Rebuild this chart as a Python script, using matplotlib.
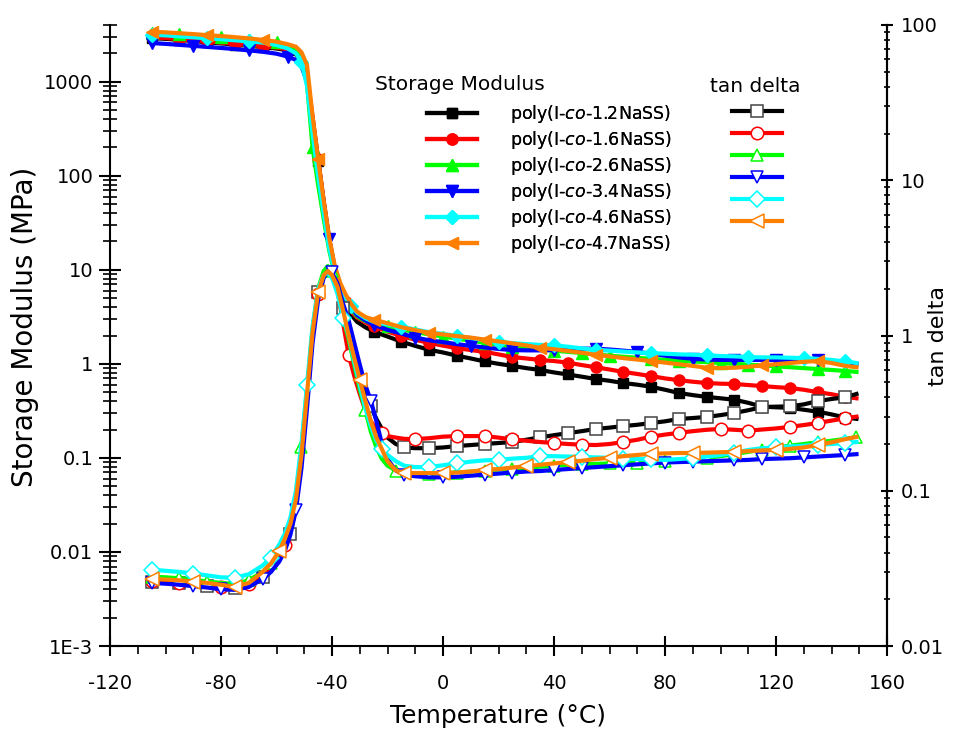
import numpy as np
import matplotlib
matplotlib.use("Agg")
import matplotlib.pyplot as plt
from matplotlib.ticker import FixedLocator, FixedFormatter, LogLocator, MultipleLocator, NullFormatter

plt.rcParams['font.family'] = ['DejaVu Sans']
plt.rcParams['mathtext.fontset'] = 'dejavusans'
plt.rcParams['axes.unicode_minus'] = False

# Temperature grids (deg C)
T_E = [-105, -100, -95, -90, -85, -80, -75, -70, -65, -60,
       -56, -53, -51, -49, -47, -45, -43, -41, -39, -37, -35, -33, -31, -28, -25,
       -20, -15, -10, -5, 0, 5, 10, 15, 20, 25, 30, 35, 40, 45, 50, 55, 60, 65, 70,
       75, 80, 85, 90, 95, 100, 105, 110, 115, 120, 125, 130, 135, 140, 145, 149]

T_D = [-105, -100, -95, -90, -85, -80, -75, -70, -65,
       -62, -59, -57, -55, -53, -51, -49, -47, -45, -43, -41.5, -40, -38, -36, -34,
       -32, -30, -28, -26, -24, -22, -20, -17, -14, -10, -5,
       0, 5, 10, 15, 20, 25, 30, 35, 40, 45, 50, 55, 60, 65, 70, 75, 80, 85, 90, 95,
       100, 105, 110, 115, 120, 125, 130, 135, 140, 145, 149]

samples = ['1.2', '1.6', '2.6', '3.4', '4.6', '4.7']

# Storage modulus (MPa)
E_12 = [2900, 2850, 2780, 2700, 2620, 2550, 2480, 2400, 2330, 2250,
        2150, 1950, 1600, 1050, 400, 145, 52, 20, 9.5, 5.8, 4.1, 3.3, 2.8, 2.45, 2.2,
        1.95, 1.72, 1.55, 1.41, 1.32, 1.22, 1.14, 1.06, 1.0, 0.95, 0.9, 0.86, 0.81,
        0.77, 0.73, 0.69, 0.66, 0.625, 0.6, 0.57, 0.53, 0.49, 0.465, 0.445, 0.43,
        0.415, 0.385, 0.35, 0.345, 0.34, 0.325, 0.31, 0.29, 0.268, 0.26]
E_16 = [2950, 2900, 2830, 2750, 2680, 2600, 2530, 2450, 2380, 2300,
        2200, 2000, 1650, 1100, 420, 150, 54, 21, 10, 6.2, 4.5, 3.6, 3.1, 2.75, 2.5,
        2.2, 1.98, 1.8, 1.67, 1.56, 1.47, 1.4, 1.34, 1.26, 1.18, 1.14, 1.1, 1.07,
        1.03, 0.97, 0.92, 0.87, 0.82, 0.78, 0.74, 0.7, 0.67, 0.645, 0.625, 0.615,
        0.61, 0.595, 0.58, 0.565, 0.553, 0.53, 0.5, 0.475, 0.445, 0.43]
E_26 = [3300, 3250, 3180, 3100, 3030, 2950, 2880, 2800, 2720, 2620,
        2450, 2150, 1700, 950, 200, 80, 35, 16, 9, 6.2, 4.7, 3.8, 3.2, 2.85, 2.65,
        2.5, 2.32, 2.18, 2.05, 1.95, 1.85, 1.76, 1.68, 1.6, 1.52, 1.47, 1.42, 1.38,
        1.34, 1.3, 1.26, 1.22, 1.19, 1.16, 1.13, 1.1, 1.08, 1.06, 1.04, 1.02,
        1.0, 0.98, 0.96, 0.94, 0.92, 0.9, 0.88, 0.86, 0.84, 0.82]
E_34 = [2570, 2520, 2460, 2400, 2340, 2280, 2220, 2150, 2080, 1980,
        1850, 1700, 1450, 1000, 380, 140, 52, 21, 10.5, 6.8, 5.0, 4.0, 3.3, 2.9, 2.6,
        2.3, 2.1, 1.9, 1.78, 1.7, 1.62, 1.55, 1.49, 1.44, 1.4, 1.39, 1.39, 1.4,
        1.42, 1.45, 1.45, 1.42, 1.38, 1.34, 1.28, 1.22, 1.17, 1.13, 1.11, 1.1,
        1.1, 1.1, 1.1, 1.1, 1.1, 1.1, 1.09, 1.06, 1.03, 1.0]
E_46 = [3150, 3100, 3030, 2960, 2890, 2820, 2750, 2680, 2600, 2450,
        2250, 2000, 1600, 900, 280, 100, 40, 17, 9.5, 6.5, 5.0, 4.1, 3.5, 3.05, 2.8,
        2.62, 2.47, 2.32, 2.17, 2.08, 1.98, 1.88, 1.78, 1.72, 1.66, 1.62, 1.59, 1.57,
        1.52, 1.46, 1.41, 1.38, 1.35, 1.32, 1.3, 1.28, 1.26, 1.25, 1.23, 1.21,
        1.2, 1.18, 1.17, 1.17, 1.16, 1.15, 1.13, 1.1, 1.06, 1.02]
E_47 = [3400, 3340, 3270, 3200, 3120, 3050, 2970, 2880, 2780, 2660,
        2500, 2350, 2050, 1500, 430, 150, 55, 22, 11, 7.2, 5.4, 4.3, 3.6, 3.15, 2.95,
        2.7, 2.45, 2.28, 2.14, 2.05, 1.97, 1.9, 1.81, 1.73, 1.65, 1.57, 1.48, 1.43,
        1.37, 1.31, 1.25, 1.2, 1.15, 1.11, 1.07, 1.03, 0.99, 0.95, 0.91, 0.9,
        0.91, 0.93, 0.96, 0.99, 1.02, 1.05, 1.07, 1.02, 0.95, 0.92]

# tan delta
D_12 = [0.026, 0.0257, 0.0253, 0.025, 0.0245, 0.024, 0.0235, 0.025, 0.028,
        0.031, 0.037, 0.043, 0.053, 0.08, 0.16, 0.4, 1.05, 1.9, 2.4, 2.6, 2.55, 2.1,
        1.5, 1.17, 0.85, 0.6, 0.45, 0.35, 0.29, 0.25, 0.22, 0.2, 0.19, 0.188, 0.188,
        0.19, 0.194, 0.197, 0.2, 0.203, 0.206, 0.213, 0.221, 0.228, 0.235, 0.242,
        0.25, 0.255, 0.261, 0.266, 0.273, 0.28, 0.29, 0.294, 0.299, 0.307, 0.317,
        0.33, 0.346, 0.348, 0.35, 0.36, 0.378, 0.39, 0.4, 0.42]
D_16 = [0.0262, 0.026, 0.0255, 0.025, 0.0246, 0.0241, 0.0237, 0.0252, 0.0285,
        0.032, 0.038, 0.045, 0.055, 0.082, 0.16, 0.4, 1.0, 1.85, 2.4, 2.6, 2.5, 1.95,
        1.2, 0.75, 0.55, 0.42, 0.33, 0.28, 0.25, 0.235, 0.225, 0.22, 0.216, 0.215, 0.218,
        0.223, 0.225, 0.225, 0.225, 0.22, 0.214, 0.21, 0.206, 0.203, 0.2, 0.198,
        0.197, 0.2, 0.206, 0.213, 0.223, 0.23, 0.236, 0.242, 0.247, 0.25, 0.247,
        0.244, 0.248, 0.252, 0.258, 0.265, 0.273, 0.283, 0.293, 0.3]
D_26 = [0.028, 0.0277, 0.0273, 0.0268, 0.026, 0.0255, 0.025, 0.0265, 0.03,
        0.034, 0.041, 0.049, 0.062, 0.092, 0.19, 0.45, 1.1, 2.0, 2.6, 2.8, 2.6, 1.95,
        1.3, 0.95, 0.65, 0.45, 0.33, 0.24, 0.19, 0.16, 0.145, 0.135, 0.13, 0.128, 0.128,
        0.13, 0.131, 0.133, 0.135, 0.137, 0.138, 0.14, 0.143, 0.145, 0.147, 0.148,
        0.149, 0.15, 0.151, 0.152, 0.153, 0.155, 0.157, 0.16, 0.163, 0.167, 0.172,
        0.178, 0.184, 0.19, 0.195, 0.2, 0.205, 0.21, 0.216, 0.222]
D_34 = [0.0255, 0.0252, 0.0248, 0.0243, 0.0238, 0.0232, 0.023, 0.024, 0.027,
        0.03, 0.035, 0.041, 0.052, 0.075, 0.14, 0.34, 0.9, 1.7, 2.35, 2.6, 2.55, 2.15,
        1.6, 1.25, 0.9, 0.65, 0.48, 0.38, 0.28, 0.2, 0.16, 0.135, 0.127, 0.124, 0.122,
        0.122, 0.123, 0.125, 0.127, 0.129, 0.131, 0.133, 0.134, 0.136, 0.138, 0.14,
        0.142, 0.144, 0.146, 0.148, 0.15, 0.152, 0.153, 0.154, 0.155, 0.156, 0.157,
        0.158, 0.16, 0.161, 0.162, 0.164, 0.166, 0.168, 0.17, 0.172]
D_46 = [0.031, 0.0305, 0.030, 0.0293, 0.0285, 0.0277, 0.0275, 0.029, 0.033,
        0.037, 0.045, 0.053, 0.067, 0.1, 0.2, 0.48, 1.15, 2.0, 2.45, 2.55, 2.35, 1.85,
        1.3, 1.0, 0.68, 0.48, 0.34, 0.26, 0.21, 0.185, 0.17, 0.155, 0.145, 0.142, 0.142,
        0.146, 0.15, 0.154, 0.157, 0.158, 0.161, 0.163, 0.167, 0.167, 0.166, 0.165,
        0.164, 0.163, 0.161, 0.16, 0.159, 0.158, 0.16, 0.162, 0.166, 0.17, 0.176,
        0.183, 0.188, 0.19, 0.193, 0.195, 0.198, 0.2, 0.203, 0.206]
D_47 = [0.027, 0.0268, 0.0265, 0.026, 0.0255, 0.0248, 0.024, 0.0255, 0.03,
        0.034, 0.041, 0.049, 0.061, 0.088, 0.17, 0.42, 1.05, 1.9, 2.45, 2.6, 2.45, 2.05,
        1.45, 1.0, 0.72, 0.52, 0.38, 0.28, 0.22, 0.185, 0.155, 0.135, 0.13, 0.13, 0.13,
        0.13, 0.131, 0.133, 0.136, 0.138, 0.141, 0.144, 0.147, 0.15, 0.153, 0.156,
        0.16, 0.163, 0.167, 0.17, 0.173, 0.174, 0.175, 0.175, 0.176, 0.177, 0.178,
        0.18, 0.182, 0.183, 0.186, 0.19, 0.197, 0.205, 0.215, 0.222]

storage = [E_12, E_16, E_26, E_34, E_46, E_47]
tandelta = [D_12, D_16, D_26, D_34, D_46, D_47]

colors = ['black', '#ff0000', '#00ff00', '#0000ff', '#00ffff', '#ff8000']
markers = ['s', 'o', '^', 'v', 'D', '<']
msizes = [7, 8, 8, 8, 7, 9]
# (first marker temperature, spacing) for each series
e_marks = [(-105, 10), (-105, 10), (-106, 12), (-104, 16), (-105, 18), (-105, 20)]
d_marks = [(-105, 10), (-105, 12), (-105, 11), (-104, 13), (-105, 14), (-105, 15)]


def mark_idx(temps, start, step):
    temps = np.asarray(temps, dtype=float)
    targets = np.arange(start, temps[-1] + 1, step)
    return sorted({int(np.abs(temps - t).argmin()) for t in targets})


def main():
    fig = plt.figure(figsize=(9.6, 7.33), dpi=100)
    ax = fig.add_axes([110 / 960, 1 - 646 / 733, 777 / 960, 621 / 733])
    ax2 = ax.twinx()

    e_handles = []
    d_handles = []
    for i in range(len(samples)):
        h, = ax.plot(T_E, storage[i], color=colors[i], lw=3, marker=markers[i],
                     ms=msizes[i], mfc=colors[i], mec=colors[i],
                     markevery=mark_idx(T_E, *e_marks[i]), zorder=3 + i)
        e_handles.append(h)
        edge = '#444444' if colors[i] == 'black' else colors[i]
        h2, = ax2.plot(T_D, tandelta[i], color=colors[i], lw=3, marker=markers[i],
                       ms=msizes[i] + 1, mfc='white', mec=edge, mew=1.1,
                       markevery=mark_idx(T_D, *d_marks[i]), zorder=3 + i)
        d_handles.append(h2)

    # left axis: storage modulus
    ax.set_yscale('log')
    ax.set_ylim(1e-3, 4000)
    ax.set_xlim(-120, 160)
    ax.yaxis.set_major_locator(FixedLocator([1e-3, 1e-2, 1e-1, 1, 10, 100, 1000]))
    ax.yaxis.set_major_formatter(FixedFormatter(['1E-3', '0.01', '0.1', '1', '10', '100', '1000']))
    ax.yaxis.set_minor_locator(LogLocator(base=10, subs=np.arange(2, 10), numticks=20))
    ax.yaxis.set_minor_formatter(NullFormatter())
    ax.xaxis.set_major_locator(MultipleLocator(40))
    ax.xaxis.set_minor_locator(MultipleLocator(10))

    ax.tick_params(axis='y', which='major', direction='inout', length=16, width=1.5,
                   labelsize=14, pad=4)
    ax.tick_params(axis='y', which='minor', direction='inout', length=10, width=1.2)
    ax.tick_params(axis='x', which='major', direction='inout', length=15, width=1.5,
                   labelsize=14, pad=13)
    ax.tick_params(axis='x', which='minor', direction='out', length=6, width=1.2)

    # right axis: tan delta
    ax2.set_yscale('log')
    ax2.set_ylim(0.01, 100)
    ax2.yaxis.set_major_locator(FixedLocator([0.01, 0.1, 1, 10, 100]))
    ax2.yaxis.set_major_formatter(FixedFormatter(['0.01', '0.1', '1', '10', '100']))
    ax2.yaxis.set_minor_locator(LogLocator(base=10, subs=np.arange(2, 10), numticks=20))
    ax2.yaxis.set_minor_formatter(NullFormatter())
    ax2.tick_params(axis='y', which='major', direction='inout', length=8, width=1.5,
                    labelsize=14, pad=6)
    ax2.tick_params(axis='y', which='minor', direction='inout', length=4, width=1.2)

    for a in (ax, ax2):
        a.spines['top'].set_visible(False)
        for s in ('left', 'right', 'bottom'):
            a.spines[s].set_linewidth(1.5)
    ax2.spines['left'].set_visible(False)
    ax2.spines['bottom'].set_visible(False)

    ax.set_xlabel('Temperature (\u00b0C)', fontsize=18)
    ax.set_ylabel('Storage Modulus (MPa)', fontsize=20)
    ax2.set_ylabel('tan delta', fontsize=16)
    ax.xaxis.set_label_coords(0.4994, -0.093)
    ax.yaxis.set_label_coords(-0.091, 0.514)
    ax2.yaxis.set_label_coords(1.053, 0.50)

    # legend: storage modulus column with labels, tan delta column with handles only
    labels = ['poly(I-$\\it{co}$-%sNaSS)' % s for s in samples]
    leg_kw = dict(loc='upper left', frameon=False, bbox_transform=fig.transFigure,
                  fontsize=12.5, handlelength=2.9, labelspacing=0.23,
                  borderpad=0, borderaxespad=0, numpoints=1)
    leg1 = ax.legend(e_handles, labels, bbox_to_anchor=(427 / 960, 1 - 103 / 733),
                     handletextpad=1.9, **leg_kw)
    ax.add_artist(leg1)
    ax2.legend(d_handles, [''] * len(samples), bbox_to_anchor=(732 / 960, 1 - 103 / 733),
               handletextpad=0, **leg_kw)

    fig.text(375 / 960, 1 - 84 / 733, 'Storage Modulus', fontsize=14.5, va='center')
    fig.text(710 / 960, 1 - 87 / 733, 'tan delta', fontsize=14.5, va='center')

    fig.savefig('out.png', dpi=100)


if __name__ == "__main__":
    main()
